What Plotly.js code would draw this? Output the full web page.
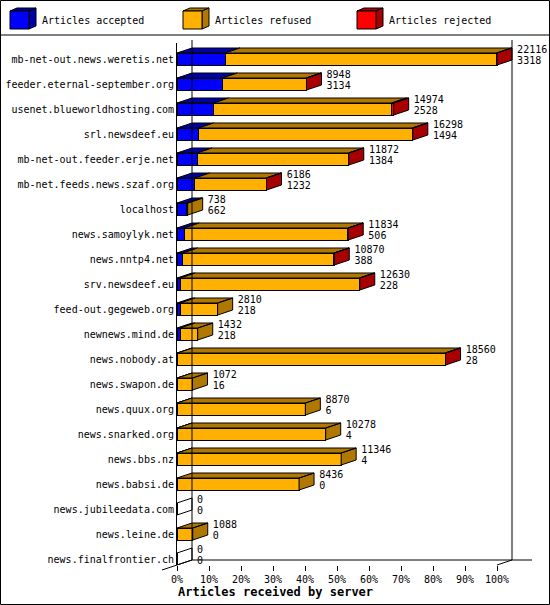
<!DOCTYPE html>
<html>
<head>
<meta charset="utf-8">
<script src="https://cdn.plot.ly/plotly-3.0.1.min.js"></script>
<style>
  body { margin: 0; background: #fff; }
  #chart { width: 550px; height: 605px; }
</style>
</head>
<body>
<div id="chart"></div>
<script>
// Data (top row first)
const servers = [
    'mb-net-out.news.weretis.net', 'feeder.eternal-september.org', 'usenet.blueworldhosting.com',
    'srl.newsdeef.eu', 'mb-net-out.feeder.erje.net', 'mb-net.feeds.news.szaf.org', 'localhost',
    'news.samoylyk.net', 'news.nntp4.net', 'srv.newsdeef.eu', 'feed-out.gegeweb.org',
    'newnews.mind.de', 'news.nobody.at', 'news.swapon.de', 'news.quux.org', 'news.snarked.org',
    'news.bbs.nz', 'news.babsi.de', 'news.jubileedata.com', 'news.leine.de', 'news.finalfrontier.ch'
];
const totals   = [22116, 8948, 14974, 16298, 11872, 6186, 738, 11834, 10870, 12630, 2810, 1432, 18560, 1072, 8870, 10278, 11346, 8436, 0, 1088, 0];
const accepted = [3318, 3134, 2528, 1494, 1384, 1232, 662, 506, 388, 228, 218, 218, 28, 16, 6, 4, 4, 0, 0, 0, 0];
const refused  = [18758, 5794, 12296, 14774, 10468, 4934, 76, 11308, 10462, 12382, 2592, 1214, 18512, 1056, 8864, 10274, 11342, 8436, 0, 1088, 0];
const rejected = [40, 20, 150, 30, 20, 20, 0, 20, 20, 20, 0, 0, 20, 0, 0, 0, 0, 0, 0, 0, 0];

const seriesNames = ['Articles accepted', 'Articles refused', 'Articles rejected'];
const xTickVals = [0, 10, 20, 30, 40, 50, 60, 70, 80, 90, 100];
const xTickText = ['0%', '10%', '20%', '30%', '40%', '50%', '60%', '70%', '80%', '90%', '100%'];
const xTitle = 'Articles received by server';

// Look
const frontColors = ['#0000ff', '#ffb000', '#ff0000'];
const darkColors  = ['#0000a8', '#b07800', '#a80000'];
const FONT = 'DejaVu Sans Mono, monospace';

// Geometry (pixels of the 550x605 picture)
const W = 550, H = 605;
const M = { l: 177, r: 4, t: 43, b: 40 };
const plotW = W - M.l - M.r;
const plotH = H - M.t - M.b;
const PX_PER_PCT = 3.2;
const ROW_PX = 25;
const X_MAX = plotW / PX_PER_PCT;
const Y_TOP = -0.64;
const Y_BOT = Y_TOP + plotH / ROW_PX;
const DX = 15 / PX_PER_PCT;   // depth of the 3D effect, x units
const DY = 5 / ROW_PX;        // depth, row units
const BAR_H = 0.48;

const series = [accepted, refused, rejected];
const maxTotal = Math.max(...totals);
const pct = v => v / maxTotal * 100;
const rows = servers.map((_, i) => i);

const px2paperX = px => (px - M.l) / plotW;
const px2paperY = py => (H - M.b - py) / plotH;

const traces = [];

// Front faces
series.forEach((vals, s) => {
    traces.push({
        type: 'bar',
        orientation: 'h',
        y: rows,
        x: vals.map(pct),
        width: BAR_H,
        marker: { color: frontColors[s], line: { color: '#000', width: 1 } },
        hoverinfo: 'skip'
    });
});

// Top and side faces
const faceX = series.map(() => []);
const faceY = series.map(() => []);
const emptyX = [], emptyY = [];

rows.forEach(i => {
    const yt = i - BAR_H / 2;
    const yb = i + BAR_H / 2;
    let start = 0;
    let last = -1;
    series.forEach((vals, s) => {
        const v = vals[i];
        if (v > 0) {
            const x0 = pct(start), x1 = pct(start + v);
            faceX[s].push(x0, x1, x1 + DX, x0 + DX, x0, null);
            faceY[s].push(yt, yt, yt - DY, yt - DY, yt, null);
            last = s;
        }
        start += v;
    });
    const xe = pct(totals[i]);
    if (last >= 0) {
        faceX[last].push(xe, xe + DX, xe + DX, xe, xe, null);
        faceY[last].push(yt, yt - DY, yb - DY, yb, yt, null);
    } else {
        emptyX.push(xe, xe + DX, xe + DX, xe, xe, null);
        emptyY.push(yt, yt - DY, yb - DY, yb, yt, null);
    }
});

series.forEach((_, s) => {
    traces.push({
        type: 'scatter',
        mode: 'lines',
        x: faceX[s],
        y: faceY[s],
        fill: 'toself',
        fillcolor: darkColors[s],
        line: { color: '#000', width: 1 },
        hoverinfo: 'skip'
    });
});

traces.push({
    type: 'scatter',
    mode: 'lines',
    x: emptyX,
    y: emptyY,
    line: { color: '#000', width: 1 },
    hoverinfo: 'skip'
});

// Value labels: total above, accepted below
const labelX = totals.map(t => pct(t) + DX + 1.6);
traces.push({
    type: 'scatter',
    mode: 'text',
    x: labelX,
    y: rows.map(i => i - 0.36),
    text: totals.map(String),
    textposition: 'middle right',
    textfont: { family: FONT, size: 10, color: '#000' },
    cliponaxis: false,
    hoverinfo: 'skip'
});
traces.push({
    type: 'scatter',
    mode: 'text',
    x: labelX,
    y: rows.map(i => i + 0.1),
    text: accepted.map(String),
    textposition: 'middle right',
    textfont: { family: FONT, size: 10, color: '#000' },
    cliponaxis: false,
    hoverinfo: 'skip'
});

// Frame: outer border, legend separator, back wall and floor edges
const shapes = [];
const line = { color: '#000', width: 1 };
shapes.push({ type: 'rect', xref: 'paper', yref: 'paper',
    x0: px2paperX(0.5), x1: px2paperX(W - 0.5), y0: px2paperY(0.5), y1: px2paperY(H - 0.5), line: line });
shapes.push({ type: 'line', xref: 'paper', yref: 'paper',
    x0: px2paperX(0), x1: px2paperX(W), y0: px2paperY(35), y1: px2paperY(35), line: line });

const backLeft = M.l + DX * PX_PER_PCT;
const frontRight = M.l + 100 * PX_PER_PCT;
const backRight = frontRight + DX * PX_PER_PCT;
const floorFront = H - M.b;
const floorBack = floorFront - 5;
shapes.push({ type: 'line', xref: 'paper', yref: 'paper',
    x0: px2paperX(backLeft), x1: px2paperX(backLeft), y0: px2paperY(40), y1: px2paperY(floorBack), line: line });
shapes.push({ type: 'line', xref: 'paper', yref: 'paper',
    x0: px2paperX(backRight), x1: px2paperX(backRight), y0: px2paperY(40), y1: px2paperY(floorBack), line: line });
shapes.push({ type: 'line', xref: 'paper', yref: 'paper',
    x0: px2paperX(backLeft), x1: px2paperX(532), y0: px2paperY(floorBack), y1: px2paperY(floorBack), line: line });
shapes.push({ type: 'line', xref: 'paper', yref: 'paper',
    x0: px2paperX(M.l - 15), x1: px2paperX(backLeft), y0: px2paperY(floorFront + 5), y1: px2paperY(floorBack), line: line });
shapes.push({ type: 'line', xref: 'paper', yref: 'paper',
    x0: px2paperX(frontRight), x1: px2paperX(backRight), y0: px2paperY(floorFront), y1: px2paperY(floorBack), line: line });

// Legend with little cubes
const annotations = [];
const legendX = [10, 183, 357];
seriesNames.forEach((name, s) => {
    const x0 = legendX[s], x1 = x0 + 19, y0 = 11, y1 = 29, d = 7, e = 3;
    const P = (x, y) => px2paperX(x) + ',' + px2paperY(y);
    shapes.push({ type: 'path', xref: 'paper', yref: 'paper',
        path: 'M' + P(x0, y0) + 'L' + P(x0 + d, y0 - e) + 'L' + P(x1 + d, y0 - e) + 'L' + P(x1, y0) + 'Z',
        fillcolor: darkColors[s], line: line });
    shapes.push({ type: 'path', xref: 'paper', yref: 'paper',
        path: 'M' + P(x1, y0) + 'L' + P(x1 + d, y0 - e) + 'L' + P(x1 + d, y1 - e) + 'L' + P(x1, y1) + 'Z',
        fillcolor: darkColors[s], line: line });
    shapes.push({ type: 'rect', xref: 'paper', yref: 'paper',
        x0: px2paperX(x0), x1: px2paperX(x1), y0: px2paperY(y1), y1: px2paperY(y0),
        fillcolor: frontColors[s], line: line });
    annotations.push({ xref: 'paper', yref: 'paper', x: px2paperX(x0 + 30), y: px2paperY(20),
        xanchor: 'left', yanchor: 'middle', showarrow: false, text: name,
        font: { family: FONT, size: 10, color: '#000' } });
});

annotations.push({ xref: 'paper', yref: 'paper', x: px2paperX(275), y: px2paperY(592),
    xanchor: 'center', yanchor: 'middle', showarrow: false, text: '<b>' + xTitle + '</b>',
    font: { family: FONT, size: 12, color: '#000' } });

const layout = {
    width: W,
    height: H,
    margin: M,
    paper_bgcolor: '#fff',
    plot_bgcolor: '#fff',
    barmode: 'stack',
    showlegend: false,
    xaxis: {
        range: [0, X_MAX],
        tickvals: xTickVals,
        ticktext: xTickText,
        ticks: 'outside',
        ticklen: 5,
        tickcolor: '#000',
        showline: false,
        showgrid: false,
        zeroline: false,
        tickfont: { family: FONT, size: 10, color: '#000' }
    },
    yaxis: {
        range: [Y_BOT, Y_TOP],
        tickvals: rows,
        ticktext: servers,
        ticks: '',
        showline: true,
        linecolor: '#000',
        linewidth: 1,
        showgrid: false,
        zeroline: false,
        tickfont: { family: FONT, size: 10, color: '#000' }
    },
    shapes: shapes,
    annotations: annotations
};

Plotly.newPlot('chart', traces, layout, { staticPlot: true });
</script>
</body>
</html>
